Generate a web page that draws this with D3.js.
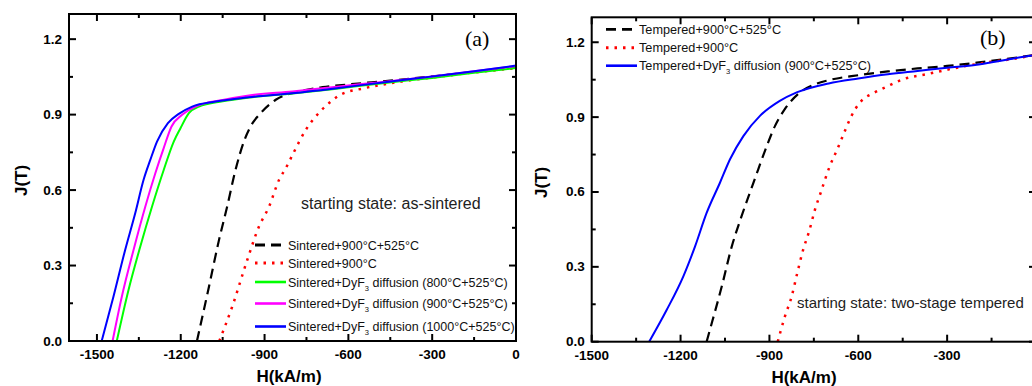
<!DOCTYPE html>
<html>
<head>
<meta charset="utf-8">
<script src="https://cdn.jsdelivr.net/npm/d3@7"></script>
<style>
  body { margin: 0; background: #fff; }
  text { font-family: Arial, "Liberation Sans", sans-serif; }
</style>
</head>
<body>
<svg id="chart" width="1032" height="386"></svg>
<script>
// tick labels
const yTicks = [0, 0.3, 0.6, 0.9, 1.2];
const xTicksA = [-1500, -1200, -900, -600, -300, 0];
const xTicksB = [-1500, -1200, -900, -600, -300];

// panel (a): starting state as-sintered, [H (kA/m), J (T)]
const aSint900525 = [[-1142,0],[-1099,0.216],[-1063,0.402],[-1034,0.534],[-1004,0.68],[-974,0.793],[-950,0.853],[-914,0.906],[-860,0.959],[-776,0.992],[-692,1.009],[-600,1.02],[-450,1.035],[-300,1.052],[-150,1.07],[0,1.088]];
const aSint900 = [[-1062,0],[-1016,0.136],[-962,0.322],[-920,0.455],[-884,0.534],[-848,0.641],[-824,0.687],[-800,0.74],[-752,0.84],[-722,0.886],[-680,0.935],[-632,0.977],[-543,1.005],[-453,1.024],[-357,1.04],[-261,1.053],[-165,1.066],[-69,1.077],[0,1.085]];
const aDy800 = [[-1429,0],[-1387,0.203],[-1345,0.375],[-1303,0.534],[-1261,0.68],[-1225,0.793],[-1201,0.846],[-1171,0.906],[-1135,0.932],[-1050,0.953],[-956,0.968],[-800,0.984],[-650,1.002],[-477,1.025],[-300,1.046],[-150,1.066],[0,1.085]];
const aDy900 = [[-1444,0],[-1411,0.176],[-1369,0.362],[-1327,0.534],[-1291,0.667],[-1261,0.767],[-1233,0.853],[-1195,0.899],[-1147,0.932],[-1050,0.958],[-956,0.976],[-800,0.992],[-650,1.01],[-477,1.03],[-300,1.052],[-150,1.072],[0,1.093]];
const aDy1000 = [[-1483,0],[-1441,0.176],[-1399,0.362],[-1363,0.508],[-1333,0.641],[-1309,0.72],[-1285,0.793],[-1246,0.866],[-1207,0.903],[-1159,0.932],[-1075,0.952],[-956,0.969],[-800,0.985],[-656,1.003],[-477,1.028],[-297,1.052],[-150,1.072],[0,1.095]];

// panel (b): starting state two-stage tempered
const bTemp900525 = [[-1112,0],[-1101,0.047],[-1061,0.221],[-1027,0.382],[-994,0.503],[-960,0.617],[-938,0.69],[-909,0.784],[-881,0.865],[-848,0.932],[-797,0.999],[-750,1.03],[-700,1.048],[-600,1.068],[-500,1.083],[-400,1.095],[-300,1.105],[-200,1.118],[-100,1.133],[0,1.15]];
const bTemp900 = [[-872,0],[-848,0.1],[-825,0.181],[-806,0.275],[-786,0.369],[-766,0.442],[-746,0.53],[-727,0.597],[-696,0.704],[-671,0.771],[-645,0.845],[-623,0.905],[-594,0.959],[-544,0.999],[-499,1.025],[-448,1.052],[-369,1.072],[-300,1.09],[-167,1.119],[-78,1.133],[0,1.15]];
const bTempDy = [[-1306,0],[-1247,0.127],[-1191,0.261],[-1151,0.382],[-1112,0.516],[-1067,0.637],[-1033,0.731],[-988,0.824],[-932,0.905],[-865,0.965],[-808,0.999],[-700,1.035],[-600,1.055],[-500,1.072],[-400,1.085],[-300,1.098],[-200,1.11],[-100,1.13],[0,1.15]];

const styles = {
  dash: {color: "#000", dash: "10,6", width: 2.2},
  dot: {color: "#ff0000", dash: "2.5,6", width: 2.5},
  green: {color: "#00ff00", dash: null, width: 2},
  magenta: {color: "#ff00ff", dash: null, width: 2},
  blue: {color: "#0000ff", dash: null, width: 2}
};

const svg = d3.select("#chart");
svg.append("rect").attr("width", 1032).attr("height", 386).attr("fill", "#fff");

function drawPanel(p) {
  const x = d3.scaleLinear().domain(p.xDomain).range([p.left, p.right]);
  const y = d3.scaleLinear().domain([0, 1.3]).range([p.bottom, p.top]);
  const g = svg.append("g");

  // ticks, inward on all four sides
  const xMinor = d3.range(-1500, 1, 150);
  const yMinor = d3.range(0, 1.31, 0.15);
  xMinor.forEach(v => {
    const major = Math.abs(v % 300) < 1e-6;
    const len = major ? 7 : 4;
    g.append("line").attr("x1", x(v)).attr("x2", x(v)).attr("y1", p.bottom).attr("y2", p.bottom - len)
      .attr("stroke", "#000").attr("stroke-width", 2);
    g.append("line").attr("x1", x(v)).attr("x2", x(v)).attr("y1", p.top).attr("y2", p.top + len)
      .attr("stroke", "#000").attr("stroke-width", 2);
  });
  yMinor.forEach((v, i) => {
    const len = i % 2 === 0 ? 7 : 4;
    g.append("line").attr("x1", p.left).attr("x2", p.left + len).attr("y1", y(v)).attr("y2", y(v))
      .attr("stroke", "#000").attr("stroke-width", 2);
    g.append("line").attr("x1", p.right).attr("x2", p.right - len).attr("y1", y(v)).attr("y2", y(v))
      .attr("stroke", "#000").attr("stroke-width", 2);
  });

  // curves
  const line = d3.line().x(d => x(d[0])).y(d => y(d[1])).curve(d3.curveMonotoneX);
  p.series.forEach(s => {
    const st = styles[s.style];
    g.append("path").datum(s.data).attr("d", line)
      .attr("fill", "none").attr("stroke", st.color).attr("stroke-width", st.width)
      .attr("stroke-dasharray", st.dash);
  });

  // frame
  g.append("rect").attr("x", p.left).attr("y", p.top)
    .attr("width", p.right - p.left).attr("height", p.bottom - p.top)
    .attr("fill", "none").attr("stroke", "#000").attr("stroke-width", 2);

  // tick labels
  p.xTicks.forEach(v => {
    g.append("text").attr("x", x(v)).attr("y", p.bottom + 18).attr("text-anchor", "middle")
      .attr("font-size", 13.5).attr("font-weight", "bold").text(v);
  });
  yTicks.forEach(v => {
    g.append("text").attr("x", p.left - 7).attr("y", y(v) + 4.5).attr("text-anchor", "end")
      .attr("font-size", 13.5).attr("font-weight", "bold").text(v.toFixed(1));
  });

  // axis titles
  g.append("text").attr("x", p.xTitleX).attr("y", p.bottom + 41).attr("text-anchor", "middle")
    .attr("font-size", 17).attr("font-weight", "bold").text("H(kA/m)");
  g.append("text").attr("transform", `translate(${p.yTitleX},${(p.top + p.bottom) / 2 + 3}) rotate(-90)`)
    .attr("text-anchor", "middle").attr("font-size", 17).attr("font-weight", "bold").text("J(T)");

  // panel letter
  g.append("text").attr("x", p.tagX).attr("y", p.tagY).attr("font-size", 22)
    .style("font-family", "'Liberation Serif', 'Times New Roman', serif").text(p.tag);

  // note
  g.append("text").attr("x", p.noteX).attr("y", p.noteY).attr("font-size", p.noteSize)
    .attr("fill", "#222").text(p.note);

  // legend
  p.series.forEach((s, i) => {
    const st = styles[s.style];
    const ly = p.legendY[i];
    g.append("line").attr("x1", p.legendX).attr("x2", p.legendX + 31).attr("y1", ly).attr("y2", ly)
      .attr("stroke", st.color).attr("stroke-width", st.width + 0.6).attr("stroke-dasharray", st.dash);
    const t = g.append("text").attr("x", p.legendX + 33).attr("y", ly + 4.5)
      .attr("font-size", p.legendSize).attr("fill", "#111");
    s.label.forEach(part => {
      const ts = t.append("tspan").text(part.t);
      if (part.sub) ts.attr("font-size", p.legendSize * 0.6).attr("dy", 4);
      if (part.after) ts.attr("dy", -4);
    });
  });
}

const lab = (pre, rest) => rest === undefined ? [{t: pre}] :
  [{t: pre + "+DyF"}, {t: "3", sub: true}, {t: " diffusion (" + rest + ")", after: true}];

drawPanel({
  left: 69, right: 516, top: 14, bottom: 341, xDomain: [-1600, 0], xTicks: xTicksA,
  xTitleX: 289, yTitleX: 27, tag: "(a)", tagX: 465, tagY: 46,
  note: "starting state: as-sintered", noteX: 301, noteY: 209, noteSize: 16,
  legendX: 255, legendY: [245, 263, 282, 303.5, 326.5], legendSize: 12.5,
  series: [
    {data: aSint900525, style: "dash", label: lab("Sintered+900°C+525°C")},
    {data: aSint900, style: "dot", label: lab("Sintered+900°C")},
    {data: aDy800, style: "green", label: lab("Sintered", "800°C+525°C")},
    {data: aDy900, style: "magenta", label: lab("Sintered", "900°C+525°C")},
    {data: aDy1000, style: "blue", label: lab("Sintered", "1000°C+525°C")}
  ]
});

drawPanel({
  left: 591.7, right: 1036, top: 17.3, bottom: 341.7, xDomain: [-1500, 0], xTicks: xTicksB,
  xTitleX: 804, yTitleX: 547, tag: "(b)", tagX: 980, tagY: 45,
  note: "starting state: two-stage tempered", noteX: 797, noteY: 308, noteSize: 15,
  legendX: 606, legendY: [29.3, 47.7, 65.7], legendSize: 12.7,
  series: [
    {data: bTemp900525, style: "dash", label: lab("Tempered+900°C+525°C")},
    {data: bTemp900, style: "dot", label: lab("Tempered+900°C")},
    {data: bTempDy, style: "blue", label: lab("Tempered", "900°C+525°C")}
  ]
});
</script>
</body>
</html>
